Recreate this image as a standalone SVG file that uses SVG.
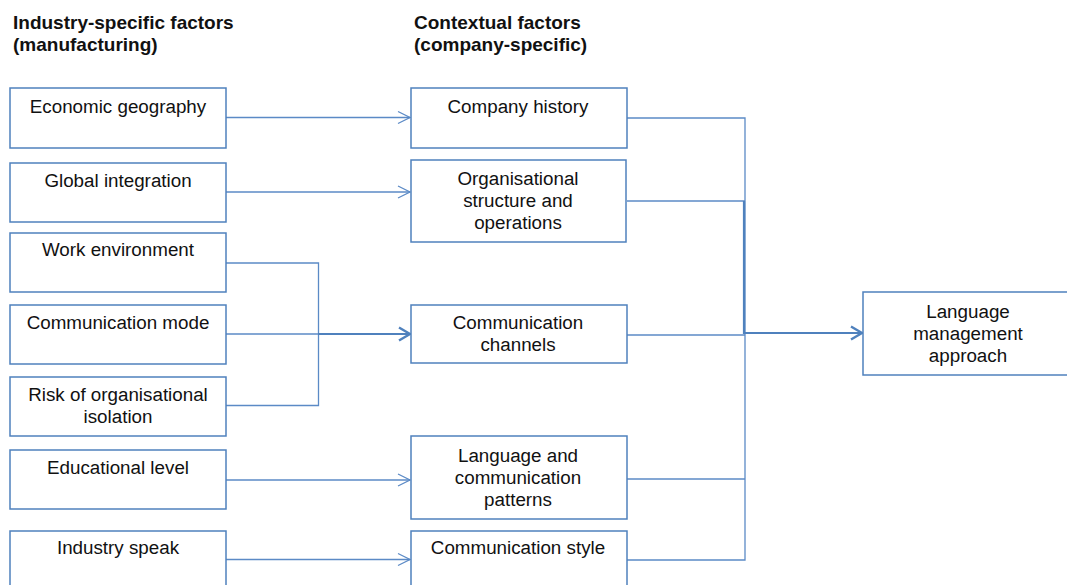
<svg xmlns="http://www.w3.org/2000/svg" width="1067" height="585" viewBox="0 0 1067 585">
<style>
.box{fill:#fff;stroke:#4F81BD;stroke-width:1.5}
.t{font-family:"Liberation Sans",Arial,sans-serif;font-size:18.8px;fill:#111;text-anchor:middle}
.h{font-family:"Liberation Sans",Arial,sans-serif;font-size:19px;font-weight:bold;fill:#111}
.ln{fill:none;stroke:#5B8AC6;stroke-width:1.3}
.lnb{fill:none;stroke:#4F81BD;stroke-width:2.2}
.ah{fill:none;stroke:#5B8AC6;stroke-width:1.3}
.ahb{fill:none;stroke:#4F81BD;stroke-width:2.4}
</style>
<rect width="1067" height="585" fill="#fff"/>
<g id="headers">
<text class="h" x="13" y="29">Industry-specific factors</text>
<text class="h" x="13" y="51">(manufacturing)</text>
<text class="h" x="414" y="29">Contextual factors</text>
<text class="h" x="414" y="51">(company-specific)</text>
</g>
<g id="connectors">
<path class="ln" d="M226 117.5H410"/><path class="ah" d="M398 111.5L410 117.5L398 123.5"/>
<path class="ln" d="M226 192H410"/><path class="ah" d="M398 186L410 192L398 198"/>
<path class="ln" d="M226 263H318.5V405.5H226"/>
<path class="ln" d="M226 334H318"/>
<path class="lnb" d="M318 334H410"/><path class="ahb" d="M399 327.5L410 334L399 340.5"/>
<path class="ln" d="M226 480H410"/><path class="ah" d="M398 474L410 480L398 486"/>
<path class="ln" d="M226 559.5H410"/><path class="ah" d="M398 553.5L410 559.5L398 565.5"/>
<path class="ln" d="M627 118H745V560H627"/>
<path class="ln" d="M627 201H745"/>
<path class="ln" d="M627 335H745"/>
<path class="ln" d="M627 479H745"/>
<path class="lnb" d="M744 201V334"/>
<path class="lnb" d="M744 333H862"/><path class="ahb" d="M851 326.5L862 333L851 339.5"/>
</g>
<g id="n-economic"><rect class="box" x="10" y="88" width="216" height="60"/><text class="t" x="118" y="113">Economic geography</text></g>
<g id="n-global"><rect class="box" x="10" y="163" width="216" height="59"/><text class="t" x="118" y="187">Global integration</text></g>
<g id="n-work"><rect class="box" x="10" y="233" width="216" height="59"/><text class="t" x="118" y="256">Work environment</text></g>
<g id="n-commmode"><rect class="box" x="10" y="305" width="216" height="59"/><text class="t" x="118" y="329">Communication mode</text></g>
<g id="n-risk"><rect class="box" x="10" y="377" width="216" height="59"/><text class="t" x="118" y="401">Risk of organisational</text><text class="t" x="118" y="423">isolation</text></g>
<g id="n-edu"><rect class="box" x="10" y="450" width="216" height="59"/><text class="t" x="118" y="474">Educational level</text></g>
<g id="n-speak"><rect class="box" x="10" y="531" width="216" height="70"/><text class="t" x="118" y="554">Industry speak</text></g>
<g id="n-history"><rect class="box" x="411" y="88" width="216" height="60"/><text class="t" x="518" y="113">Company history</text></g>
<g id="n-org"><rect class="box" x="411" y="160" width="215" height="82"/><text class="t" x="518" y="185">Organisational</text><text class="t" x="518" y="207">structure and</text><text class="t" x="518" y="229">operations</text></g>
<g id="n-channels"><rect class="box" x="411" y="305" width="216" height="58"/><text class="t" x="518" y="329">Communication</text><text class="t" x="518" y="351">channels</text></g>
<g id="n-patterns"><rect class="box" x="411" y="436" width="216" height="83"/><text class="t" x="518" y="462">Language and</text><text class="t" x="518" y="484">communication</text><text class="t" x="518" y="506">patterns</text></g>
<g id="n-style"><rect class="box" x="411" y="531" width="216" height="70"/><text class="t" x="518" y="554">Communication style</text></g>
<g id="n-lma"><rect class="box" x="863" y="292" width="220" height="83"/><text class="t" x="968" y="318">Language</text><text class="t" x="968" y="340">management</text><text class="t" x="968" y="362">approach</text></g>
</svg>
